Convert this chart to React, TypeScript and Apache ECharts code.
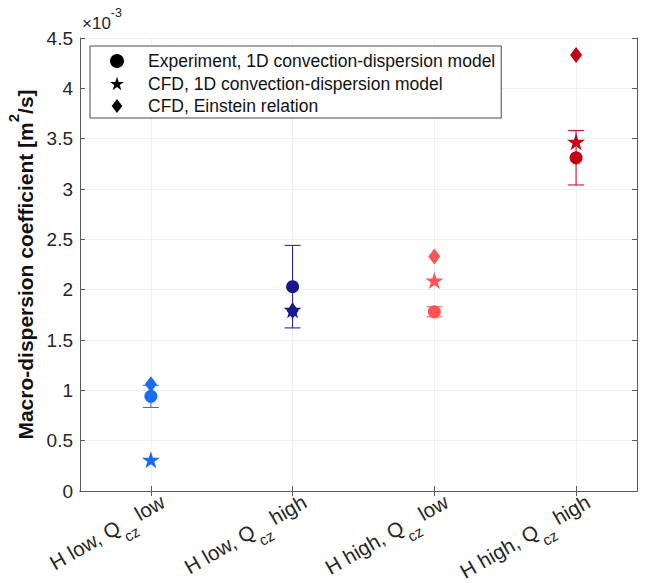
import React, { useEffect, useRef } from "react";
import * as echarts from "echarts";

// Category labels: "H <level>, Q_cz <level>"
const hLevels = ["H low", "H low", "H high", "H high"];
const qLevels = ["low", "high", "low", "high"];
const xPositions = [1, 2, 3, 4];

// Values in units of 1e-3 m^2/s
const experiment = [0.94, 2.03, 1.78, 3.31];
const experimentErr = [0.11, 0.41, 0.05, 0.27];
const cfd1D = [0.31, 1.8, 2.09, 3.47];
const cfdEinstein = [1.06, 1.79, 2.33, 4.33];

const groupColors = ["#1a6cf2", "#17178f", "#ff5454", "#c30015"];

const yTicks = [0, 0.5, 1, 1.5, 2, 2.5, 3, 3.5, 4, 4.5];

const seriesNames = [
  "Experiment, 1D convection-dispersion model",
  "CFD, 1D convection-dispersion model",
  "CFD, Einstein relation",
];

const STAR =
  "path://M50 0 L61.2 34.5 L97.6 34.5 L68.2 55.9 L79.4 90.5 L50 69.1 L20.6 90.5 L31.8 55.9 L2.4 34.5 L38.8 34.5 Z";
const DIAMOND = "path://M50 0 L88 50 L50 100 L12 50 Z";

const AXIS_COLOR = "#5a5a5a";
const TEXT_COLOR = "#262626";
const FONT = "Liberation Sans, Arial, sans-serif";

export default function App() {
  const ref = useRef<HTMLDivElement>(null);

  useEffect(() => {
    if (!ref.current) return;
    const chart = echarts.init(ref.current, undefined, { renderer: "svg" });

    const pts = (vals: number[]) =>
      vals.map((v, i) => ({
        value: [xPositions[i], v],
        itemStyle: { color: groupColors[i] },
      }));

    const errData = experiment.map((v, i) => [
      xPositions[i],
      v - experimentErr[i],
      v + experimentErr[i],
      i,
    ]);

    const option: any = {
      animation: false,
      backgroundColor: "#ffffff",
      textStyle: { fontFamily: FONT },
      grid: {
        left: 80,
        right: 8,
        top: 38,
        bottom: 92,
        containLabel: false,
        outerBoundsMode: "none",
      },
      legend: {
        orient: "vertical",
        left: 90,
        top: 46,
        itemWidth: 14,
        itemHeight: 14,
        itemGap: 4.5,
        padding: [6, 6, 3, 20],
        borderColor: "#4a4a4a",
        borderWidth: 1,
        backgroundColor: "#ffffff",
        symbolKeepAspect: true,
        data: [
          { name: seriesNames[0], icon: "circle" },
          { name: seriesNames[1], icon: STAR },
          { name: seriesNames[2], icon: DIAMOND },
        ],
        textStyle: {
          fontSize: 17.5,
          lineHeight: 18,
          color: "#111",
          fontFamily: FONT,
          padding: [0, 0, 0, 19],
        },
      },
      graphic: [
        {
          type: "text",
          left: 82,
          top: 6,
          style: {
            text: "{b|×10}{p|-3}",
            rich: {
              b: {
                fontSize: 17,
                fontFamily: FONT,
                fill: TEXT_COLOR,
                lineHeight: 26,
                verticalAlign: "bottom",
              },
              p: {
                fontSize: 12.5,
                fontFamily: FONT,
                fill: TEXT_COLOR,
                lineHeight: 26,
                verticalAlign: "top",
              },
            },
          },
        },
      ],
      xAxis: [
        {
          type: "value",
          position: "bottom",
          min: 0.5,
          max: 4.43,
          axisLine: { show: true, lineStyle: { color: AXIS_COLOR, width: 1 } },
          axisTick: {
            show: true,
            inside: true,
            length: 5,
            customValues: xPositions,
            lineStyle: { color: AXIS_COLOR },
          },
          splitLine: { show: false },
          axisLabel: {
            show: true,
            customValues: xPositions,
            rotate: 30,
            margin: 22,
            padding: [0, -17, 0, 0],
            hideOverlap: false,
            formatter: (v: number) => {
              const i = xPositions.indexOf(Math.round(v));
              if (i < 0) return "";
              return `{n|${hLevels[i]}, Q}{s|cz}{n| ${qLevels[i]}}`;
            },
            rich: {
              n: {
                fontSize: 20.5,
                fontFamily: FONT,
                color: TEXT_COLOR,
                lineHeight: 24,
                verticalAlign: "top",
              },
              s: {
                fontSize: 15,
                fontFamily: FONT,
                color: TEXT_COLOR,
                lineHeight: 32,
                verticalAlign: "bottom",
              },
            },
          },
        },
        {
          type: "value",
          position: "top",
          min: 0.5,
          max: 4.43,
          axisLine: { show: true, lineStyle: { color: AXIS_COLOR, width: 1 } },
          axisTick: {
            show: true,
            inside: true,
            length: 5,
            customValues: xPositions,
            lineStyle: { color: AXIS_COLOR },
          },
          axisLabel: { show: false },
          splitLine: { show: false },
        },
      ],
      yAxis: [
        {
          type: "value",
          position: "left",
          min: 0,
          max: 4.5,
          interval: 0.5,
          name: "{b|Macro-dispersion coefficient [m}{p|2}{b|/s]}",
          nameLocation: "middle",
          nameGap: 34,
          nameTextStyle: {
            rich: {
              b: {
                fontSize: 21,
                fontWeight: "bold",
                fontFamily: FONT,
                color: "#111",
                lineHeight: 30,
                verticalAlign: "bottom",
              },
              p: {
                fontSize: 15,
                fontWeight: "bold",
                fontFamily: FONT,
                color: "#111",
                lineHeight: 30,
                verticalAlign: "top",
              },
            },
          },
          axisLine: { show: true, lineStyle: { color: AXIS_COLOR, width: 1 } },
          axisTick: {
            show: true,
            inside: true,
            length: 5,
            lineStyle: { color: AXIS_COLOR },
          },
          axisLabel: {
            fontSize: 19,
            color: TEXT_COLOR,
            fontFamily: FONT,
            margin: 7,
            customValues: yTicks,
            formatter: (v: number) => String(v),
          },
          splitLine: { show: true, lineStyle: { color: "#f0f0f0", width: 1 } },
        },
        {
          type: "value",
          position: "right",
          min: 0,
          max: 4.5,
          interval: 0.5,
          axisLine: { show: true, lineStyle: { color: AXIS_COLOR, width: 1 } },
          axisTick: {
            show: true,
            inside: true,
            length: 5,
            lineStyle: { color: AXIS_COLOR },
          },
          axisLabel: { show: false },
          splitLine: { show: false },
        },
      ],
      series: [
        {
          type: "scatter",
          name: "grid",
          data: [],
          z: 0,
          silent: true,
          markLine: {
            z: 0,
            silent: true,
            symbol: ["none", "none"],
            label: { show: false },
            lineStyle: { color: "#f0f0f0", type: "solid", width: 1 },
            emphasis: { disabled: true },
            data: xPositions.map((x) => ({ xAxis: x })),
          },
        },
        {
          type: "custom",
          name: "errorbars",
          xAxisIndex: 0,
          yAxisIndex: 0,
          data: errData,
          encode: { x: 0, y: [1, 2] },
          z: 2,
          silent: true,
          renderItem: (params: any, api: any) => {
            const x = api.value(0);
            const lo = api.coord([x, api.value(1)]);
            const hi = api.coord([x, api.value(2)]);
            const color = groupColors[api.value(3)];
            const cap = 8;
            const style = { stroke: color, lineWidth: 1 };
            return {
              type: "group",
              children: [
                {
                  type: "line",
                  shape: { x1: lo[0], y1: lo[1], x2: hi[0], y2: hi[1] },
                  style,
                },
                {
                  type: "line",
                  shape: { x1: lo[0] - cap, y1: lo[1], x2: lo[0] + cap, y2: lo[1] },
                  style,
                },
                {
                  type: "line",
                  shape: { x1: hi[0] - cap, y1: hi[1], x2: hi[0] + cap, y2: hi[1] },
                  style,
                },
              ],
            };
          },
        },
        {
          type: "scatter",
          name: seriesNames[0],
          symbol: "circle",
          symbolSize: 13,
          itemStyle: { color: "#000", opacity: 1 },
          data: pts(experiment),
          z: 3,
        },
        {
          type: "scatter",
          name: seriesNames[1],
          symbol: STAR,
          symbolSize: [18, 17],
          itemStyle: { color: "#000", opacity: 1 },
          data: pts(cfd1D),
          z: 4,
        },
        {
          type: "scatter",
          name: seriesNames[2],
          symbol: "diamond",
          symbolSize: [12, 16],
          itemStyle: { color: "#000", opacity: 1 },
          data: pts(cfdEinstein),
          z: 5,
        },
      ],
    };

    chart.setOption(option);
    return () => chart.dispose();
  }, []);

  return (
    <div
      ref={ref}
      style={{ position: "fixed", left: 0, top: 0, width: 645, height: 583 }}
    />
  );
}
